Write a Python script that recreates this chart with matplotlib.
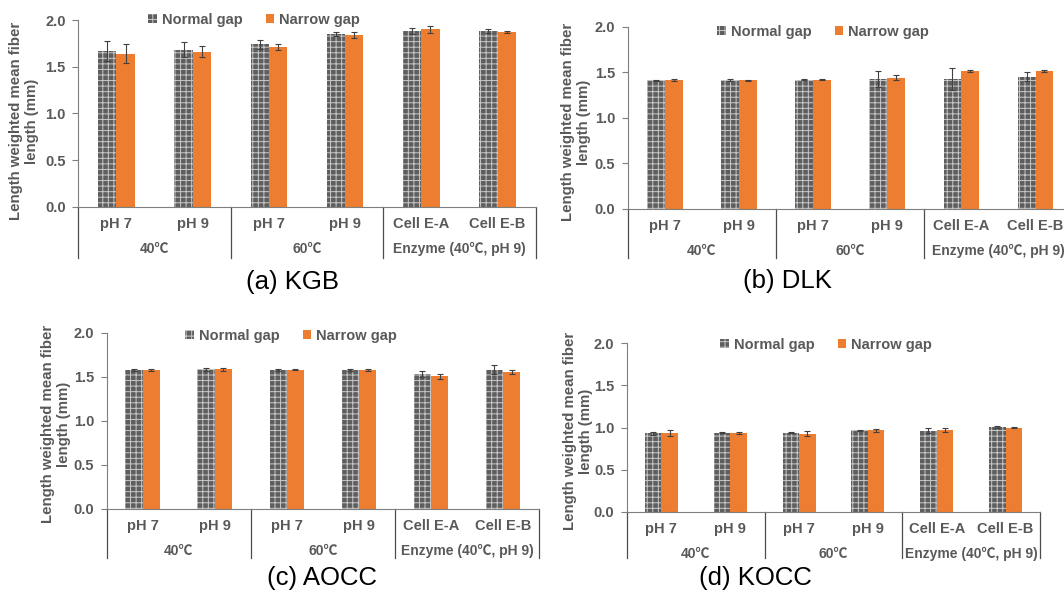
import matplotlib
matplotlib.use("Agg")
import matplotlib.pyplot as plt
import matplotlib.transforms as mtransforms

plt.rcParams['font.family'] = ['Liberation Sans', 'Noto Sans CJK KR', 'DejaVu Sans']
plt.rcParams['hatch.linewidth'] = 0.7

W, H = 1064, 592

categories = ["pH 7", "pH 9", "pH 7", "pH 9", "Cell E-A", "Cell E-B"]
groups = ["40℃", "60℃", "Enzyme (40℃, pH 9)"]
series_names = ["Normal gap", "Narrow gap"]
captions = ["(a) KGB", "(b) DLK", "(c) AOCC", "(d) KOCC"]

# means and error bars
kgb_normal = [1.67, 1.68, 1.74, 1.85, 1.88, 1.88]
kgb_normal_err = [0.11, 0.08, 0.05, 0.02, 0.03, 0.02]
kgb_narrow = [1.64, 1.66, 1.71, 1.84, 1.90, 1.875]
kgb_narrow_err = [0.10, 0.06, 0.03, 0.03, 0.035, 0.01]

dlk_normal = [1.41, 1.415, 1.42, 1.425, 1.43, 1.45]
dlk_normal_err = [0.01, 0.01, 0.005, 0.085, 0.12, 0.05]
dlk_narrow = [1.415, 1.41, 1.42, 1.44, 1.51, 1.51]
dlk_narrow_err = [0.01, 0.01, 0.005, 0.03, 0.01, 0.01]

aocc_normal = [1.577, 1.585, 1.577, 1.577, 1.53, 1.58]
aocc_normal_err = [0.01, 0.02, 0.01, 0.015, 0.03, 0.05]
aocc_narrow = [1.58, 1.585, 1.58, 1.575, 1.505, 1.555]
aocc_narrow_err = [0.01, 0.015, 0.005, 0.015, 0.025, 0.025]

kocc_normal = [0.93, 0.94, 0.94, 0.965, 0.962, 1.005]
kocc_normal_err = [0.015, 0.005, 0.01, 0.01, 0.03, 0.015]
kocc_narrow = [0.935, 0.935, 0.925, 0.965, 0.975, 1.0]
kocc_narrow_err = [0.04, 0.01, 0.03, 0.015, 0.025, 0.005]

# pixel layout: x0, x1, y(2.0), y(0), separator bottom, caption (x, y), legend (x, y), ylabel (x, y)
layout = [
    (78.3, 535.7, 20.0, 206.7, 257.7, (292, 282), (254, 20), (24, 121)),
    (627.7, 1072.6, 26.7, 209.0, 257.7, (787, 281), (823, 32), (576, 122)),
    (106.7, 539.0, 332.7, 509.0, 557.7, (322, 578), (291, 336), (56, 424)),
    (627.0, 1040.0, 343.3, 511.7, 558.3, (755, 578), (826, 345), (578, 431)),
]
data = [
    (kgb_normal, kgb_normal_err, kgb_narrow, kgb_narrow_err),
    (dlk_normal, dlk_normal_err, dlk_narrow, dlk_narrow_err),
    (aocc_normal, aocc_normal_err, aocc_narrow, aocc_narrow_err),
    (kocc_normal, kocc_normal_err, kocc_narrow, kocc_narrow_err),
]

txt = '#595959'
axis_col = '#7f7f7f'
orange = '#ED7D31'

fig = plt.figure(figsize=(W / 100, H / 100), dpi=100)

for (x0, x1, ytop, ybot, sep_bot, cap, leg, ylab), (nm, nme, na, nae), caption in zip(layout, data, captions):
    ax = fig.add_axes([x0 / W, 1 - ybot / H, (x1 - x0) / W, (ybot - ytop) / H])
    ah = ybot - ytop
    xs = range(len(categories))
    bw = 0.24
    b1 = ax.bar([x - bw / 2 for x in xs], nm, bw, color='#5e5e5e', edgecolor='#c8c8c8',
                hatch='+++', linewidth=0, label=series_names[0])
    ax.errorbar([x - bw / 2 for x in xs], nm, yerr=nme, fmt='none', ecolor='#404040',
                elinewidth=0.8, capsize=2.5, capthick=0.8)
    b2 = ax.bar([x + bw / 2 for x in xs], na, bw, color=orange, linewidth=0, label=series_names[1])
    ax.errorbar([x + bw / 2 for x in xs], na, yerr=nae, fmt='none', ecolor='#404040',
                elinewidth=0.8, capsize=2.5, capthick=0.8)

    ax.set_xlim(-0.5, 5.5)
    ax.set_ylim(0, 2.0)
    ax.set_yticks([0, 0.5, 1.0, 1.5, 2.0])
    ax.set_yticklabels(['0.0', '0.5', '1.0', '1.5', '2.0'])
    ax.set_xticks([])
    for lab in ax.get_yticklabels():
        lab.set_fontweight('bold')
    ax.tick_params(axis='y', length=4, width=0.8, color=axis_col, labelcolor=txt,
                   labelsize=10.5, pad=5)
    for s in ['top', 'right']:
        ax.spines[s].set_visible(False)
    ax.spines['left'].set_color(axis_col)
    ax.spines['bottom'].set_color(axis_col)
    ax.spines['left'].set_linewidth(0.8)
    ax.spines['bottom'].set_linewidth(0.8)

    trans = mtransforms.blended_transform_factory(ax.transData, ax.transAxes)
    depth = (sep_bot - ybot) / ah
    for xb in [-0.5, 1.5, 3.5, 5.5]:
        ax.plot([xb, xb], [0, -depth], transform=trans, color='#4d4d4d', lw=0.9, clip_on=False)
    for i, c in enumerate(categories):
        ax.text(i, -17 / ah, c, transform=trans, ha='center', va='center', fontsize=10.5,
                fontweight='bold', color=txt)
    for g, gname in enumerate(groups):
        ax.text(2 * g + 0.5, -42 / ah, gname, transform=trans, ha='center', va='center',
                fontsize=10, fontweight='bold', color=txt)

    ax.legend(handles=[b1, b2], loc='center', bbox_to_anchor=(leg[0] / W, 1 - leg[1] / H),
              bbox_transform=fig.transFigure, ncol=2, frameon=False, handlelength=0.6,
              handleheight=0.6, handletextpad=0.3, columnspacing=1.6,
              prop={'weight': 'bold', 'size': 10.5}, labelcolor=txt)

    fig.text(ylab[0] / W, 1 - ylab[1] / H, "Length weighted mean fiber\nlength (mm)",
             rotation=90, ha='center', va='center', fontsize=10.8, fontweight='bold',
             color=txt, linespacing=1.1)
    fig.text(cap[0] / W, 1 - cap[1] / H, caption, ha='center', va='center', fontsize=18.5,
             color='black')

fig.savefig('out.png', dpi=100)
